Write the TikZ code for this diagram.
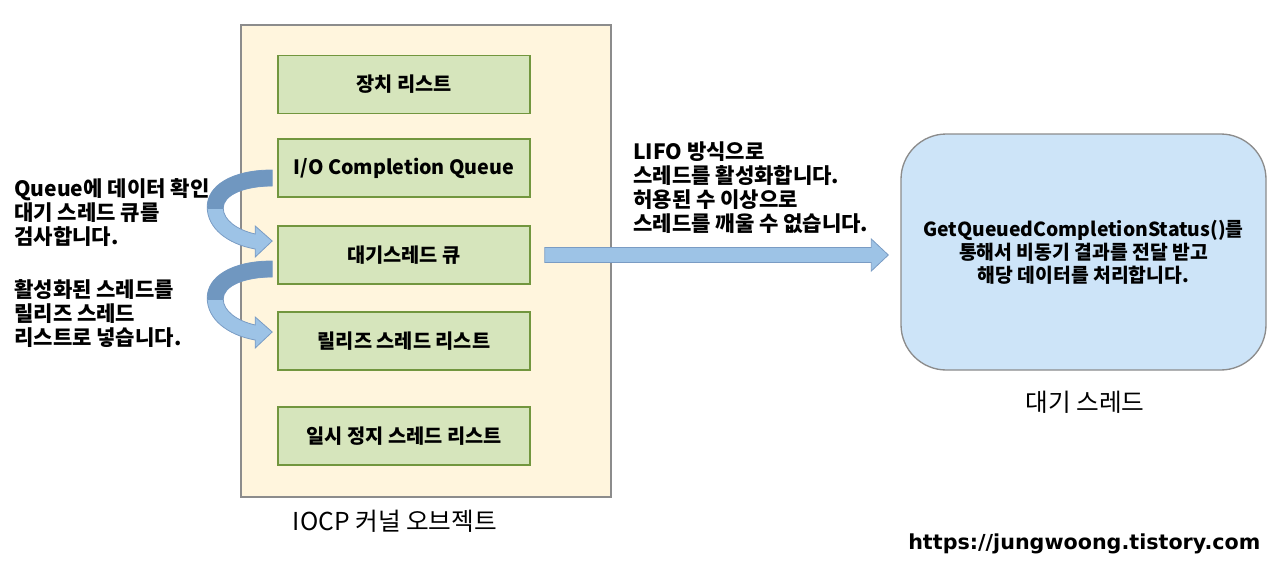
\documentclass[tikz,border=0pt]{standalone}
\usepackage{fontspec}
\setmainfont{Noto Sans CJK KR}
\newfontfamily\urlfont{DejaVu Sans}
\usetikzlibrary{calc}
\definecolor{cream}{HTML}{FFF5DD}
\definecolor{creamline}{HTML}{8C8C8C}
\definecolor{greenfill}{HTML}{D6E5BC}
\definecolor{greenline}{HTML}{72963E}
\definecolor{bluefill}{HTML}{CDE4F8}
\definecolor{arrowlight}{HTML}{9DC3E6}
\definecolor{arrowdark}{HTML}{7097C0}
\definecolor{arrowline}{HTML}{7A9CC4}
\tikzset{
  listbox/.style={draw=greenline, line width=1.2pt, fill=greenfill, minimum width=189pt, minimum height=43.5pt, font=\bfseries\fontsize{14.8pt}{17pt}\selectfont},
  blockarr/.style={fill=arrowlight, draw=arrowline, line width=0.6pt},
  note/.style={font=\bfseries\fontsize{15.8pt}{18pt}\selectfont, align=left, inner sep=0pt},
}
\newcommand{\curvedarr}[1]{%
  \begin{scope}[shift={#1}]
    \path[blockarr] (-5,2) .. controls (-46,2) and (-70,18) .. (-70,39) .. controls (-70,60) and (-50,76) .. (-22,81) -- (-22,89) -- (-5,73) -- (-22,58) -- (-22,66) .. controls (-40,62) and (-54,52) .. (-54,40) .. controls (-54,27) and (-33,18) .. (-5,18) -- cycle;
    \begin{scope}
      \clip (-80,-5) rectangle (0,40);
      \fill[arrowdark] (-5,2) .. controls (-46,2) and (-70,18) .. (-70,39) .. controls (-70,60) and (-50,76) .. (-22,81) -- (-22,89) -- (-5,73) -- (-22,58) -- (-22,66) .. controls (-40,62) and (-54,52) .. (-54,40) .. controls (-54,27) and (-33,18) .. (-5,18) -- cycle;
    \end{scope}
  \end{scope}}
\begin{document}
\begin{tikzpicture}[x=0.75pt, y=-0.75pt]
\useasboundingbox[fill=white] (0,0) rectangle (1280,571);
% outer kernel object box
\node[draw=creamline, line width=1pt, fill=cream, minimum width=277.5pt, minimum height=354pt] (iocp) at (426,261) {};
\node[font=\fontsize{18.5pt}{20pt}\selectfont] (iocplabel) at (395,521) {IOCP 커널 오브젝트};
% list boxes
\node[listbox] (dev) at (404,84.5) {장치 리스트};
\node[listbox] (ioq) at (404,168) {I/O Completion Queue};
\node[listbox] (wq) at (404,255) {대기스레드 큐};
\node[listbox] (rel) at (404,341) {릴리즈 스레드 리스트};
\node[listbox] (pause) at (404,436) {일시 정지 스레드 리스트};
% waiting thread box
\node[draw=creamline, line width=1pt, fill=bluefill, rounded corners=34pt, minimum width=273.75pt, minimum height=177pt, font=\bfseries\fontsize{14.5pt}{17.25pt}\selectfont, align=center] (wt) at (1083.5,252) {GetQueuedCompletionStatus()를\\통해서 비동기 결과를 전달 받고\\해당 데이터를 처리합니다.};
\node[font=\fontsize{18.5pt}{20pt}\selectfont] (wtlabel) at (1085,402) {대기 스레드};
% left notes
\node[note, anchor=west] (n1) at (14,212.5) {Queue에 데이터 확인\\대기 스레드 큐를\\검사합니다.};
\node[note, anchor=west] (n2) at (14,313.5) {활성화된 스레드를\\릴리즈 스레드\\리스트로 넣습니다.};
% LIFO note
\node[note, anchor=west] (n3) at (633,187.5) {LIFO 방식으로\\스레드를 활성화합니다.\\허용된 수 이상으로\\스레드를 깨울 수 없습니다.};
% curved arrows
\curvedarr{(ioq.west)}
\curvedarr{($(wq.west)+(0,4)$)}
% straight arrow
\coordinate (as) at ($(wq.east)+(14,0)$);
\coordinate (ae) at ($(wt.west)+(-12,0)$);
\path[blockarr] let \p1=(as), \p2=(ae) in
  (\x1,\y1+5.6pt) -- (\x2-12.75pt,\y1+5.6pt) -- (\x2-12.75pt,\y1+12pt) -- (\x2,\y1) -- (\x2-12.75pt,\y1-12pt) -- (\x2-12.75pt,\y1-5.6pt) -- (\x1,\y1-5.6pt) -- cycle;
% url
\node[anchor=east, font=\urlfont\bfseries\fontsize{15.5pt}{17pt}\selectfont] (url) at (1265,544) {https://jungwoong.tistory.com};
\end{tikzpicture}
\end{document}
